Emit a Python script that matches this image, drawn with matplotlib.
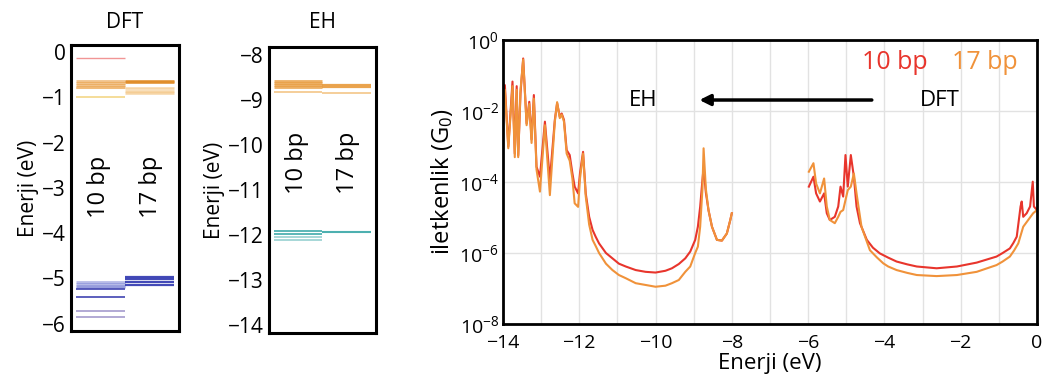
import matplotlib
matplotlib.use("Agg")
import matplotlib.pyplot as plt
import numpy as np

plt.rcParams["font.family"] = ["Open Sans", "DejaVu Sans"]
plt.rcParams["mathtext.fontset"] = "custom"
plt.rcParams["mathtext.rm"] = "Open Sans"
plt.rcParams["mathtext.default"] = "regular"

# --- energy levels (eV) ---
dft_10_salmon = [-0.12]
dft_10_orange = [-0.64, -0.68, -0.72, -0.76]
dft_10_orange_light = [-0.80]
dft_10_yellow = [-0.98]
dft_10_blue_light = [-5.08, -5.12, -5.16, -5.20]
dft_10_blue = [-5.24, -5.41]
dft_10_purple = [-5.72, -5.85]
dft_17_orange = [-0.64, -0.67]
dft_17_orange_light = [-0.80, -0.85, -0.90]
dft_17_blue = [-4.96, -5.01, -5.09, -5.14]

eh_10_orange = [-8.58, -8.62, -8.66, -8.70]
eh_10_orange_light = [-8.83]
eh_10_teal = [-11.92, -11.97]
eh_10_teal_light = [-12.04, -12.11]
eh_17_orange = [-8.67, -8.70]
eh_17_orange_light = [-8.84]
eh_17_teal = [-11.93]

# --- conductance, EH window (log10 G/G0) ---
eh_energy = [-14.0, -13.95, -13.86, -13.75, -13.69, -13.64, -13.60, -13.54, -13.47, -13.38,
             -13.31, -13.25, -13.19, -13.12, -13.03, -12.90, -12.77, -12.64, -12.58, -12.51,
             -12.46, -12.40, -12.33, -12.25, -12.18, -12.12, -12.03, -11.98, -11.90, -11.83,
             -11.74, -11.65, -11.57, -11.48, -11.30, -11.13, -10.96, -10.78, -10.52, -10.26,
             -10.0, -9.74, -9.57, -9.39, -9.22, -9.09, -8.96, -8.89, -8.83, -8.77,
             -8.74, -8.68, -8.61, -8.52, -8.39, -8.26, -8.13, -8.04, -8.0]
eh_log_10bp = [-1.5, -1.27, -3.0, -1.17, -3.2, -1.3, -3.25, -1.5, -0.52, -2.35,
               -1.74, -2.8, -1.55, -3.57, -3.85, -2.3, -3.94, -2.25, -1.78, -2.16,
               -2.07, -2.25, -3.1, -3.24, -3.75, -4.13, -4.32, -3.75, -3.15, -4.32,
               -4.98, -5.35, -5.54, -5.73, -6.0, -6.15, -6.3, -6.38, -6.48, -6.53,
               -6.55, -6.5, -6.43, -6.31, -6.15, -5.96, -5.63, -5.26, -4.7, -3.94,
               -3.6, -4.3, -4.8, -5.26, -5.63, -5.65, -5.45, -5.07, -4.88]
eh_log_17bp = [-1.6, -1.4, -3.05, -1.3, -3.3, -1.4, -3.3, -1.4, -0.55, -2.4,
               -1.8, -2.9, -1.65, -3.65, -4.27, -2.4, -4.37, -2.3, -1.75, -2.2,
               -2.1, -2.3, -3.2, -3.4, -3.9, -4.6, -4.7, -3.9, -3.2, -4.4,
               -5.2, -5.63, -5.8, -6.0, -6.3, -6.48, -6.62, -6.71, -6.85, -6.9,
               -6.95, -6.92, -6.85, -6.76, -6.53, -6.38, -6.0, -5.82, -5.26, -4.2,
               -3.05, -4.2, -4.8, -5.26, -5.63, -5.65, -5.45, -5.07, -4.88]

# --- conductance, DFT window ---
dft_energy_10bp = [-5.98, -5.86, -5.79, -5.69, -5.58, -5.51, -5.43, -5.30, -5.21, -5.15,
                   -5.08, -5.02, -4.96, -4.88, -4.80, -4.73, -4.64, -4.46, -4.30, -4.12,
                   -3.90, -3.68, -3.40, -3.15, -2.63, -2.10, -1.58, -1.06, -0.90, -0.71,
                   -0.62, -0.53, -0.43, -0.40, -0.36, -0.27, -0.18, -0.11, -0.08, 0.0]
dft_log_10bp = [-4.13, -3.85, -4.32, -4.55, -4.32, -4.88, -5.07, -4.98, -4.69, -4.13,
                -4.41, -3.24, -4.13, -3.24, -3.85, -4.69, -5.16, -5.63, -5.85, -6.01,
                -6.13, -6.24, -6.32, -6.38, -6.43, -6.38, -6.27, -6.10, -6.0, -5.87,
                -5.72, -5.54, -4.69, -4.55, -4.98, -4.88, -4.69, -3.99, -4.69, -4.79]
dft_energy_17bp = [-5.98, -5.86, -5.79, -5.69, -5.58, -5.51, -5.43, -5.30, -5.21, -5.15,
                   -5.08, -5.02, -4.96, -4.88, -4.80, -4.73, -4.60, -4.38, -4.20, -4.03,
                   -3.90, -3.68, -3.40, -3.15, -2.63, -2.10, -1.58, -1.06, -0.90, -0.71,
                   -0.60, -0.49, -0.36, -0.23, -0.10, 0.0]
dft_log_17bp = [-3.71, -3.47, -4.04, -4.32, -3.90, -4.69, -5.07, -5.16, -4.98, -4.84,
                -4.79, -4.51, -4.23, -4.13, -3.76, -4.32, -5.26, -5.92, -6.12, -6.29,
                -6.38, -6.48, -6.56, -6.62, -6.65, -6.62, -6.53, -6.34, -6.24, -6.10,
                -5.93, -5.73, -5.26, -5.07, -4.88, -4.79]

RED = "#e8352c"
ORANGE = "#f0923a"

fig = plt.figure(figsize=(10.45, 3.83), dpi=100)


def level_panel(ax, groups, ylim, yticks, title, label_y):
    for x0, x1, levels, color, alpha, lw in groups:
        for e in levels:
            ax.plot([x0, x1], [e, e], color=color, alpha=alpha, lw=lw, solid_capstyle="butt")
    ax.set_xlim(-0.05, 2.05)
    ax.set_ylim(*ylim)
    ax.set_yticks(yticks)
    ax.set_xticks([])
    ax.tick_params(axis="y", length=0, labelsize=15, pad=4)
    for s in ax.spines.values():
        s.set_linewidth(2.2)
    ax.set_ylabel("Enerji (eV)", fontsize=15, labelpad=2)
    ax.text(0.5, label_y, "10 bp", rotation=90, ha="center", va="center", fontsize=17)
    ax.text(1.5, label_y, "17 bp", rotation=90, ha="center", va="center", fontsize=17)
    pos = ax.get_position()
    fig.text(pos.x0 + pos.width / 2, 0.94, title, ha="center", va="center", fontsize=15)


ax1 = fig.add_axes([0.068, 0.136, 0.1033, 0.7467])
level_panel(ax1, [
    (0.05, 1.0, dft_10_salmon, "#f08a8a", 0.9, 1.0),
    (0.05, 1.0, dft_10_orange, "#e89a3c", 0.6, 2.0),
    (0.05, 1.0, dft_10_orange_light, "#f0b060", 0.5, 1.5),
    (0.05, 1.0, dft_10_yellow, "#f3d27a", 0.9, 1.2),
    (0.05, 1.0, dft_10_blue_light, "#6f78d0", 0.5, 2.0),
    (0.05, 1.0, dft_10_blue, "#3c40b0", 0.9, 1.3),
    (0.05, 1.0, dft_10_purple, "#9a90c8", 0.9, 1.2),
    (1.0, 1.95, dft_17_orange, "#e08a24", 0.85, 2.0),
    (1.0, 1.95, dft_17_orange_light, "#f0b868", 0.6, 1.8),
    (1.0, 1.95, dft_17_blue, "#2e36b0", 0.9, 1.6),
], (-6.16, 0.16), [0, -1, -2, -3, -4, -5, -6], "DFT", -2.98)

ax2 = fig.add_axes([0.2574, 0.1305, 0.1024, 0.7467])
level_panel(ax2, [
    (0.05, 1.0, eh_10_orange, "#e89a3c", 0.8, 2.0),
    (0.05, 1.0, eh_10_orange_light, "#f3c07a", 0.9, 1.2),
    (0.05, 1.0, eh_10_teal, "#3aa8a8", 0.9, 1.3),
    (0.05, 1.0, eh_10_teal_light, "#8ccccc", 0.9, 1.2),
    (1.0, 1.95, eh_17_orange, "#e89a3c", 0.9, 1.6),
    (1.0, 1.95, eh_17_orange_light, "#f3c07a", 0.9, 1.2),
    (1.0, 1.95, eh_17_teal, "#3aa8a8", 0.9, 1.5),
], (-14.18, -7.82), [-8, -9, -10, -11, -12, -13, -14], "EH", -10.39)

# --- transmission panel ---
ax3 = fig.add_axes([0.4813, 0.154, 0.511, 0.7415])
ax3.plot(eh_energy, 10 ** np.array(eh_log_10bp), color=RED, lw=1.5)
ax3.plot(eh_energy, 10 ** np.array(eh_log_17bp), color=ORANGE, lw=1.5)
ax3.plot(dft_energy_10bp, 10 ** np.array(dft_log_10bp), color=RED, lw=1.5)
ax3.plot(dft_energy_17bp, 10 ** np.array(dft_log_17bp), color=ORANGE, lw=1.5)
ax3.set_yscale("log")
ax3.set_xlim(-14, 0)
ax3.set_ylim(1e-8, 1)
ax3.set_xticks([-14, -12, -10, -8, -6, -4, -2, 0])
ax3.set_xticks(np.arange(-13, 0, 2), minor=True)
ax3.set_yticks([1e-8, 1e-6, 1e-4, 1e-2, 1])
ax3.set_yticks([], minor=True)
ax3.set_yticklabels(["10$^{-8}$", "10$^{-6}$", "10$^{-4}$", "10$^{-2}$", "10$^{0}$"])
ax3.tick_params(which="both", length=0, labelsize=14, pad=3)
ax3.tick_params(axis="x", pad=7)
ax3.grid(True, which="both", color="#e2e2e2", lw=1.0)
ax3.set_axisbelow(True)
for s in ax3.spines.values():
    s.set_linewidth(2.0)
ax3.set_xlabel("Enerji (eV)", fontsize=16, labelpad=1)
ax3.set_ylabel("iletkenlik (G$_0$)", fontsize=17, labelpad=3)

ax3.text(-3.72, 10 ** -0.62, "10 bp", color=RED, fontsize=18, ha="center", va="center")
ax3.text(-1.36, 10 ** -0.62, "17 bp", color=ORANGE, fontsize=18, ha="center", va="center")
ax3.text(-10.33, 10 ** -1.69, "EH", fontsize=16, ha="center", va="center")
ax3.text(-2.54, 10 ** -1.69, "DFT", fontsize=16, ha="center", va="center")
ax3.annotate("", xy=(-8.85, 10 ** -1.69), xytext=(-4.33, 10 ** -1.69),
             arrowprops=dict(arrowstyle="-|>", color="black", lw=2.5, mutation_scale=16,
                             shrinkA=0, shrinkB=0))

fig.savefig("out.png", dpi=100)
